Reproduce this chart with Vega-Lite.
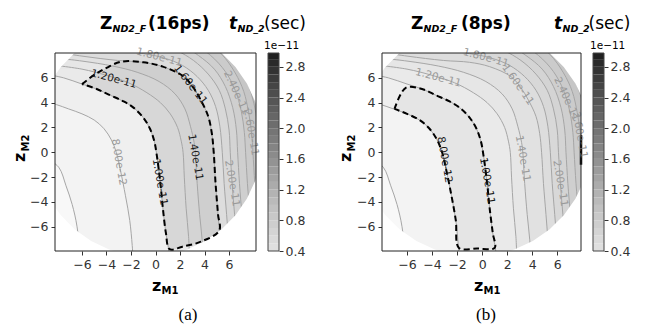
{
"$schema": "https://vega.github.io/schema/vega-lite/v6.json",
"background": "white",
"padding": {"left": 11, "top": 15, "right": 5, "bottom": 5},
"datasets": {
"curves": [
{"lev":0.4,"i":0,"x":-20,"y":20,"c":1},{"lev":0.4,"i":1,"x":-20,"y":-20,"c":1},{"lev":0.4,"i":2,"x":20,"y":-20,"c":1},{"lev":0.4,"i":3,"x":20,"y":20,"c":1},
{"lev":0.6,"i":0,"x":-20,"y":20,"c":1},{"lev":0.6,"i":1,"x":-9,"y":-0.4},{"lev":0.6,"i":2,"x":-7.9,"y":-1.2},{"lev":0.6,"i":3,"x":-7.3,"y":-2.7},{"lev":0.6,"i":4,"x":-6.8,"y":-4.2},{"lev":0.6,"i":5,"x":-6.4,"y":-6},{"lev":0.6,"i":6,"x":-6.1,"y":-9},{"lev":0.6,"i":7,"x":20,"y":-20,"c":1},{"lev":0.6,"i":8,"x":20,"y":20,"c":1},
{"lev":0.8,"i":0,"x":-20,"y":20,"c":1},{"lev":0.8,"i":1,"x":-9,"y":4.1},{"lev":0.8,"i":2,"x":-8.1,"y":3.85},{"lev":0.8,"i":3,"x":-7.1,"y":3.5},{"lev":0.8,"i":4,"x":-6,"y":3.1},{"lev":0.8,"i":5,"x":-5,"y":2.6},{"lev":0.8,"i":6,"x":-4.2,"y":1.9},{"lev":0.8,"i":7,"x":-3.6,"y":1.0},{"lev":0.8,"i":8,"x":-3.2,"y":0},{"lev":0.8,"i":9,"x":-2.85,"y":-1.5},{"lev":0.8,"i":10,"x":-2.45,"y":-3.5},{"lev":0.8,"i":11,"x":-2.1,"y":-5.5},{"lev":0.8,"i":12,"x":-1.9,"y":-7.5},{"lev":0.8,"i":13,"x":-1.8,"y":-9},{"lev":0.8,"i":14,"x":20,"y":-20,"c":1},{"lev":0.8,"i":15,"x":20,"y":20,"c":1},
{"lev":1.0,"i":0,"x":-20,"y":20,"c":1},{"lev":1.0,"i":1,"x":-9,"y":6.3},{"lev":1.0,"i":2,"x":-7.5,"y":6.0},{"lev":1.0,"i":3,"x":-6,"y":5.5},{"lev":1.0,"i":4,"x":-4.8,"y":5.1},{"lev":1.0,"i":5,"x":-3.7,"y":4.6},{"lev":1.0,"i":6,"x":-2.6,"y":4.1},{"lev":1.0,"i":7,"x":-1.8,"y":3.6},{"lev":1.0,"i":8,"x":-1.0,"y":2.8},{"lev":1.0,"i":9,"x":-0.45,"y":1.9},{"lev":1.0,"i":10,"x":-0.1,"y":0.9},{"lev":1.0,"i":11,"x":0.1,"y":-0.2},{"lev":1.0,"i":12,"x":0.4,"y":-2.5},{"lev":1.0,"i":13,"x":0.6,"y":-4.5},{"lev":1.0,"i":14,"x":0.85,"y":-6.5},{"lev":1.0,"i":15,"x":1.1,"y":-8},{"lev":1.0,"i":16,"x":1.2,"y":-9},{"lev":1.0,"i":17,"x":20,"y":-20,"c":1},{"lev":1.0,"i":18,"x":20,"y":20,"c":1},
{"lev":1.2,"i":0,"x":-20,"y":20,"c":1},{"lev":1.2,"i":1,"x":-9,"y":7.1},{"lev":1.2,"i":2,"x":-6,"y":6.7},{"lev":1.2,"i":3,"x":-4,"y":6.2},{"lev":1.2,"i":4,"x":-2.2,"y":5.6},{"lev":1.2,"i":5,"x":-0.7,"y":4.8},{"lev":1.2,"i":6,"x":0.4,"y":4.0},{"lev":1.2,"i":7,"x":1.2,"y":3.1},{"lev":1.2,"i":8,"x":1.8,"y":2.0},{"lev":1.2,"i":9,"x":2.1,"y":0.9},{"lev":1.2,"i":10,"x":2.25,"y":0},{"lev":1.2,"i":11,"x":2.35,"y":-2},{"lev":1.2,"i":12,"x":2.5,"y":-4.5},{"lev":1.2,"i":13,"x":2.7,"y":-6.8},{"lev":1.2,"i":14,"x":2.8,"y":-9},{"lev":1.2,"i":15,"x":20,"y":-20,"c":1},{"lev":1.2,"i":16,"x":20,"y":20,"c":1},
{"lev":1.4,"i":0,"x":-20,"y":20,"c":1},{"lev":1.4,"i":1,"x":-9,"y":7.7},{"lev":1.4,"i":2,"x":-6,"y":7.35},{"lev":1.4,"i":3,"x":-3.5,"y":6.95},{"lev":1.4,"i":4,"x":-1.5,"y":6.45},{"lev":1.4,"i":5,"x":0.3,"y":5.7},{"lev":1.4,"i":6,"x":1.6,"y":4.7},{"lev":1.4,"i":7,"x":2.4,"y":3.5},{"lev":1.4,"i":8,"x":2.85,"y":2.1},{"lev":1.4,"i":9,"x":3.15,"y":0.8},{"lev":1.4,"i":10,"x":3.25,"y":0},{"lev":1.4,"i":11,"x":3.4,"y":-2.5},{"lev":1.4,"i":12,"x":3.6,"y":-5},{"lev":1.4,"i":13,"x":3.8,"y":-7},{"lev":1.4,"i":14,"x":3.9,"y":-9},{"lev":1.4,"i":15,"x":20,"y":-20,"c":1},{"lev":1.4,"i":16,"x":20,"y":20,"c":1},
{"lev":1.6,"i":0,"x":-20,"y":20,"c":1},{"lev":1.6,"i":1,"x":-9,"y":8.2},{"lev":1.6,"i":2,"x":-6,"y":7.75},{"lev":1.6,"i":3,"x":-3.1,"y":7.4},{"lev":1.6,"i":4,"x":-1,"y":7.25},{"lev":1.6,"i":5,"x":0.6,"y":6.9},{"lev":1.6,"i":6,"x":2.3,"y":6.1},{"lev":1.6,"i":7,"x":3.1,"y":5.2},{"lev":1.6,"i":8,"x":3.7,"y":4.2},{"lev":1.6,"i":9,"x":4.3,"y":2.9},{"lev":1.6,"i":10,"x":4.6,"y":1.5},{"lev":1.6,"i":11,"x":4.75,"y":0},{"lev":1.6,"i":12,"x":4.9,"y":-2.5},{"lev":1.6,"i":13,"x":5.1,"y":-5},{"lev":1.6,"i":14,"x":5.25,"y":-7},{"lev":1.6,"i":15,"x":5.35,"y":-9},{"lev":1.6,"i":16,"x":20,"y":-20,"c":1},{"lev":1.6,"i":17,"x":20,"y":20,"c":1},
{"lev":1.8,"i":0,"x":-20,"y":20,"c":1},{"lev":1.8,"i":1,"x":-9,"y":8.8},{"lev":1.8,"i":2,"x":-4,"y":8.3},{"lev":1.8,"i":3,"x":-1,"y":7.95},{"lev":1.8,"i":4,"x":0.7,"y":7.6},{"lev":1.8,"i":5,"x":2.2,"y":7.0},{"lev":1.8,"i":6,"x":3.4,"y":6.1},{"lev":1.8,"i":7,"x":4.3,"y":5.0},{"lev":1.8,"i":8,"x":4.9,"y":3.7},{"lev":1.8,"i":9,"x":5.25,"y":2.1},{"lev":1.8,"i":10,"x":5.45,"y":0},{"lev":1.8,"i":11,"x":5.6,"y":-2.5},{"lev":1.8,"i":12,"x":5.8,"y":-5},{"lev":1.8,"i":13,"x":5.95,"y":-7},{"lev":1.8,"i":14,"x":6.05,"y":-9},{"lev":1.8,"i":15,"x":20,"y":-20,"c":1},{"lev":1.8,"i":16,"x":20,"y":20,"c":1},
{"lev":2.0,"i":0,"x":-20,"y":20,"c":1},{"lev":2.0,"i":1,"x":-4,"y":9.2},{"lev":2.0,"i":2,"x":0,"y":8.7},{"lev":2.0,"i":3,"x":1.7,"y":8.2},{"lev":2.0,"i":4,"x":3.1,"y":7.4},{"lev":2.0,"i":5,"x":4.3,"y":6.3},{"lev":2.0,"i":6,"x":5.2,"y":5.0},{"lev":2.0,"i":7,"x":5.7,"y":3.5},{"lev":2.0,"i":8,"x":6.0,"y":1.8},{"lev":2.0,"i":9,"x":6.1,"y":0},{"lev":2.0,"i":10,"x":6.25,"y":-2.5},{"lev":2.0,"i":11,"x":6.45,"y":-5},{"lev":2.0,"i":12,"x":6.6,"y":-7},{"lev":2.0,"i":13,"x":6.7,"y":-9},{"lev":2.0,"i":14,"x":20,"y":-20,"c":1},{"lev":2.0,"i":15,"x":20,"y":20,"c":1},
{"lev":2.2,"i":0,"x":-20,"y":20,"c":1},{"lev":2.2,"i":1,"x":0,"y":9.3},{"lev":2.2,"i":2,"x":2,"y":8.7},{"lev":2.2,"i":3,"x":3.5,"y":7.8},{"lev":2.2,"i":4,"x":4.8,"y":6.7},{"lev":2.2,"i":5,"x":5.7,"y":5.3},{"lev":2.2,"i":6,"x":6.3,"y":3.6},{"lev":2.2,"i":7,"x":6.6,"y":1.8},{"lev":2.2,"i":8,"x":6.7,"y":0},{"lev":2.2,"i":9,"x":6.85,"y":-2.5},{"lev":2.2,"i":10,"x":7.05,"y":-5},{"lev":2.2,"i":11,"x":7.2,"y":-7},{"lev":2.2,"i":12,"x":7.3,"y":-9},{"lev":2.2,"i":13,"x":20,"y":-20,"c":1},{"lev":2.2,"i":14,"x":20,"y":20,"c":1},
{"lev":2.4,"i":0,"x":-20,"y":20,"c":1},{"lev":2.4,"i":1,"x":1,"y":9.7},{"lev":2.4,"i":2,"x":3,"y":8.8},{"lev":2.4,"i":3,"x":4.5,"y":7.8},{"lev":2.4,"i":4,"x":5.7,"y":6.5},{"lev":2.4,"i":5,"x":6.5,"y":5.0},{"lev":2.4,"i":6,"x":7.0,"y":3.3},{"lev":2.4,"i":7,"x":7.25,"y":1.6},{"lev":2.4,"i":8,"x":7.35,"y":0},{"lev":2.4,"i":9,"x":7.5,"y":-2.5},{"lev":2.4,"i":10,"x":7.7,"y":-5},{"lev":2.4,"i":11,"x":7.85,"y":-7},{"lev":2.4,"i":12,"x":7.95,"y":-9},{"lev":2.4,"i":13,"x":20,"y":-20,"c":1},{"lev":2.4,"i":14,"x":20,"y":20,"c":1},
{"lev":2.6,"i":0,"x":-20,"y":20,"c":1},{"lev":2.6,"i":1,"x":2,"y":10},{"lev":2.6,"i":2,"x":4,"y":9},{"lev":2.6,"i":3,"x":5.4,"y":7.9},{"lev":2.6,"i":4,"x":6.5,"y":6.4},{"lev":2.6,"i":5,"x":7.2,"y":4.9},{"lev":2.6,"i":6,"x":7.6,"y":3.2},{"lev":2.6,"i":7,"x":7.85,"y":1.5},{"lev":2.6,"i":8,"x":7.95,"y":0},{"lev":2.6,"i":9,"x":8.1,"y":-2.5},{"lev":2.6,"i":10,"x":8.3,"y":-5},{"lev":2.6,"i":11,"x":8.45,"y":-7},{"lev":2.6,"i":12,"x":8.55,"y":-9},{"lev":2.6,"i":13,"x":20,"y":-20,"c":1},{"lev":2.6,"i":14,"x":20,"y":20,"c":1},
{"lev":2.8,"i":0,"x":-20,"y":20,"c":1},{"lev":2.8,"i":1,"x":3,"y":10.3},{"lev":2.8,"i":2,"x":5,"y":9.1},{"lev":2.8,"i":3,"x":6.3,"y":7.8},{"lev":2.8,"i":4,"x":7.2,"y":6.3},{"lev":2.8,"i":5,"x":7.8,"y":4.8},{"lev":2.8,"i":6,"x":8.2,"y":3.1},{"lev":2.8,"i":7,"x":8.45,"y":1.4},{"lev":2.8,"i":8,"x":8.55,"y":0},{"lev":2.8,"i":9,"x":8.7,"y":-2.5},{"lev":2.8,"i":10,"x":8.9,"y":-5},{"lev":2.8,"i":11,"x":9.05,"y":-7},{"lev":2.8,"i":12,"x":9.15,"y":-9},{"lev":2.8,"i":13,"x":20,"y":-20,"c":1},{"lev":2.8,"i":14,"x":20,"y":20,"c":1}
],
"mask": [
{"i":0,"x":8.7,"y":0.9},{"i":1,"x":8.559,"y":-0.715},{"i":2,"x":8.139,"y":-2.281},{"i":3,"x":7.454,"y":-3.75},{"i":4,"x":6.524,"y":-5.078},{"i":5,"x":5.378,"y":-6.224},{"i":6,"x":4.05,"y":-7.154},{"i":7,"x":2.581,"y":-7.839},{"i":8,"x":1.015,"y":-8.259},{"i":9,"x":-0.6,"y":-8.4},{"i":10,"x":-2.215,"y":-8.259},{"i":11,"x":-3.781,"y":-7.839},{"i":12,"x":-5.25,"y":-7.154},{"i":13,"x":-6.578,"y":-6.224},{"i":14,"x":-7.724,"y":-5.078},{"i":15,"x":-8.654,"y":-3.75},{"i":16,"x":-9.339,"y":-2.281},{"i":17,"x":-9.759,"y":-0.715},{"i":18,"x":-9.9,"y":0.9},{"i":19,"x":-9.759,"y":2.515},{"i":20,"x":-9.339,"y":4.081},{"i":21,"x":-8.654,"y":5.55},{"i":22,"x":-7.724,"y":6.878},{"i":23,"x":-6.578,"y":8.024},{"i":24,"x":-5.25,"y":8.954},{"i":25,"x":-3.781,"y":9.639},{"i":26,"x":-2.215,"y":10.059},{"i":27,"x":-0.6,"y":10.2},{"i":28,"x":1.015,"y":10.059},{"i":29,"x":2.581,"y":9.639},{"i":30,"x":4.05,"y":8.954},{"i":31,"x":5.378,"y":8.024},{"i":32,"x":6.524,"y":6.878},{"i":33,"x":7.454,"y":5.55},{"i":34,"x":8.139,"y":4.081},{"i":35,"x":8.559,"y":2.515},{"i":36,"x":8.7,"y":0.9},{"i":37,"x":30,"y":0.9},{"i":38,"x":30,"y":30},{"i":39,"x":-30,"y":30},{"i":40,"x":-30,"y":-30},{"i":41,"x":30,"y":-30},{"i":42,"x":30,"y":0.9}
],
"regA": [
{"i":0,"x":-6,"y":5.5},{"i":1,"x":-4.9,"y":6.3},{"i":2,"x":-4.0,"y":6.8},{"i":3,"x":-2.8,"y":7.3},{"i":4,"x":-1,"y":7.25},{"i":5,"x":0.6,"y":6.9},{"i":6,"x":2.3,"y":6.1},{"i":7,"x":3.1,"y":5.2},{"i":8,"x":3.7,"y":4.2},{"i":9,"x":4.3,"y":2.9},{"i":10,"x":4.6,"y":1.5},{"i":11,"x":4.75,"y":0},{"i":12,"x":4.9,"y":-2.5},{"i":13,"x":5.1,"y":-5},{"i":14,"x":5.2,"y":-6.3},{"i":15,"x":3.7,"y":-7.2},{"i":16,"x":2.2,"y":-7.6},{"i":17,"x":1.15,"y":-7.8},{"i":18,"x":0.85,"y":-6.5},{"i":19,"x":0.6,"y":-4.5},{"i":20,"x":0.4,"y":-2.5},{"i":21,"x":0.1,"y":-0.2},{"i":22,"x":-0.1,"y":0.9},{"i":23,"x":-0.45,"y":1.9},{"i":24,"x":-1.0,"y":2.8},{"i":25,"x":-1.8,"y":3.6},{"i":26,"x":-2.6,"y":4.1},{"i":27,"x":-3.7,"y":4.6},{"i":28,"x":-4.8,"y":5.1},{"i":29,"x":-6,"y":5.5}
],
"regB": [
{"i":0,"x":-7.0,"y":3.5},{"i":1,"x":-6.1,"y":5.2},{"i":2,"x":-4.8,"y":5.1},{"i":3,"x":-3.7,"y":4.6},{"i":4,"x":-2.6,"y":4.1},{"i":5,"x":-1.8,"y":3.6},{"i":6,"x":-1.0,"y":2.8},{"i":7,"x":-0.45,"y":1.9},{"i":8,"x":-0.1,"y":0.9},{"i":9,"x":0.1,"y":-0.2},{"i":10,"x":0.4,"y":-2.5},{"i":11,"x":0.6,"y":-4.5},{"i":12,"x":0.85,"y":-6.5},{"i":13,"x":1.0,"y":-7.7},{"i":14,"x":-0.4,"y":-7.75},{"i":15,"x":-1.85,"y":-7.7},{"i":16,"x":-2.1,"y":-5.5},{"i":17,"x":-2.45,"y":-3.5},{"i":18,"x":-2.85,"y":-1.5},{"i":19,"x":-3.2,"y":0},{"i":20,"x":-3.6,"y":1.0},{"i":21,"x":-4.2,"y":1.9},{"i":22,"x":-5,"y":2.6},{"i":23,"x":-6,"y":3.1},{"i":24,"x":-7.0,"y":3.5}
],
"cbar": [
{"lo":0.4,"hi":0.5,"mid":0.45},{"lo":0.5,"hi":0.6,"mid":0.55},{"lo":0.6,"hi":0.7,"mid":0.65},{"lo":0.7,"hi":0.8,"mid":0.75},{"lo":0.8,"hi":0.9,"mid":0.85},{"lo":0.9,"hi":1.0,"mid":0.95},{"lo":1.0,"hi":1.1,"mid":1.05},{"lo":1.1,"hi":1.2,"mid":1.15},{"lo":1.2,"hi":1.3,"mid":1.25},{"lo":1.3,"hi":1.4,"mid":1.35},{"lo":1.4,"hi":1.5,"mid":1.45},{"lo":1.5,"hi":1.6,"mid":1.55},{"lo":1.6,"hi":1.7,"mid":1.65},{"lo":1.7,"hi":1.8,"mid":1.75},{"lo":1.8,"hi":1.9,"mid":1.85},{"lo":1.9,"hi":2.0,"mid":1.95},{"lo":2.0,"hi":2.1,"mid":2.05},{"lo":2.1,"hi":2.2,"mid":2.15},{"lo":2.2,"hi":2.3,"mid":2.25},{"lo":2.3,"hi":2.4,"mid":2.35},{"lo":2.4,"hi":2.5,"mid":2.45},{"lo":2.5,"hi":2.6,"mid":2.55},{"lo":2.6,"hi":2.7,"mid":2.65},{"lo":2.7,"hi":2.8,"mid":2.75},{"lo":2.8,"hi":2.9,"mid":2.85},{"lo":2.9,"hi":3.0,"mid":2.95}
]
},
"bounds": "flush",
"spacing": 12,
"resolve": {"scale": {"x": "independent", "y": "independent", "color": "independent", "fill": "independent"}, "axis": {"x": "independent", "y": "independent"}},
"hconcat": [
{
"width": 201, "height": 198,
"encoding": {
"x": {"field": "x", "type": "quantitative", "title": null, "scale": {"domain": [-8.2, 8.2], "nice": false, "zero": false}, "axis": {"values": [-6, -4, -2, 0, 2, 4, 6]}},
"y": {"field": "y", "type": "quantitative", "title": null, "scale": {"domain": [-7.95, 8.0], "nice": false, "zero": false}, "axis": {"values": [-6, -4, -2, 0, 2, 4, 6]}}
},
"layer": [
{"data": {"name": "curves"}, "mark": {"type": "line", "interpolate": "catmull-rom", "clip": true, "strokeWidth": 0, "strokeOpacity": 0},
 "encoding": {"fill": {"field": "lev", "type": "quantitative", "scale": {"domain": [0.4, 2.8], "range": ["#f8f8f8", "#c2c2c2"]}, "legend": null}, "detail": {"field": "lev", "type": "nominal"}, "order": {"field": "i", "type": "quantitative"}}},
{"data": {"name": "regA"}, "mark": {"type": "line", "interpolate": "catmull-rom", "clip": true, "strokeWidth": 0, "strokeOpacity": 0, "fill": "#000000", "fillOpacity": 0.08},
 "encoding": {"order": {"field": "i", "type": "quantitative"}}},
{"data": {"name": "curves"}, "transform": [{"filter": "datum.c !== 1"}], "mark": {"type": "line", "interpolate": "catmull-rom", "clip": true, "stroke": "#a6a6a6", "strokeWidth": 1},
 "encoding": {"detail": {"field": "lev", "type": "nominal"}, "order": {"field": "i", "type": "quantitative"}}},
{"data": {"name": "mask"}, "mark": {"type": "line", "clip": true, "strokeWidth": 0, "strokeOpacity": 0, "fill": "#ffffff"},
 "encoding": {"order": {"field": "i", "type": "quantitative"}}},
{"data": {"name": "regA"}, "mark": {"type": "line", "interpolate": "catmull-rom", "clip": true, "stroke": "#000000", "strokeWidth": 2, "strokeDash": [6, 3.5]},
 "encoding": {"order": {"field": "i", "type": "quantitative"}}},
{"data": {"values": [{"t": "8.00e-12", "x": -3.0, "y": -0.8, "k": "c"}, {"t": "1.00e-11", "x": 0.35, "y": -2.4, "k": "b"}, {"t": "1.40e-11", "x": 3.25, "y": -0.4, "k": "b"}, {"t": "2.60e-11", "x": 7.8, "y": 1.6, "k": "c"}, {"t": "2.00e-11", "x": 6.25, "y": -2.5, "k": "c"}]},
 "mark": {"type": "text", "style": "clab", "angle": 80},
 "encoding": {"text": {"field": "t"}, "color": {"field": "k", "type": "nominal", "scale": {"domain": ["b", "c"], "range": ["#1a1a1a", "#9a9a9a"]}, "legend": null}}},
{"data": {"values": [{"t": "1.60e-11", "x": 2.85, "y": 5.45, "k": "b"}]},
 "mark": {"type": "text", "style": "clab", "angle": 52},
 "encoding": {"text": {"field": "t"}, "color": {"field": "k", "type": "nominal", "scale": {"domain": ["b", "c"], "range": ["#1a1a1a", "#9a9a9a"]}, "legend": null}}},
{"data": {"values": [{"t": "2.40e-11", "x": 6.6, "y": 4.8, "k": "c"}]},
 "mark": {"type": "text", "style": "clab", "angle": 65},
 "encoding": {"text": {"field": "t"}, "color": {"field": "k", "type": "nominal", "scale": {"domain": ["b", "c"], "range": ["#1a1a1a", "#9a9a9a"]}, "legend": null}}},
{"data": {"values": [{"t": "1.20e-11", "x": -3.4, "y": 5.9, "k": "b"}, {"t": "1.80e-11", "x": 0.3, "y": 7.65, "k": "c"}]},
 "mark": {"type": "text", "style": "clab", "angle": 15},
 "encoding": {"text": {"field": "t"}, "color": {"field": "k", "type": "nominal", "scale": {"domain": ["b", "c"], "range": ["#1a1a1a", "#9a9a9a"]}, "legend": null}}},
{"data": {"values": [{"x": -8.2, "y": -7.95, "x2": 8.2, "y2": 8.0}]}, "mark": {"type": "rect", "fill": null, "stroke": "#222222", "strokeWidth": 1},
 "encoding": {"x2": {"field": "x2"}, "y2": {"field": "y2"}}},
{"data": {"values": [{"t": "Z", "x": -8.2, "y": 8.0}]}, "mark": {"type": "text", "style": "tbig", "dx": 45, "dy": -24}, "encoding": {"text": {"field": "t"}}},
{"data": {"values": [{"t": "ND2_F", "x": -8.2, "y": 8.0}]}, "mark": {"type": "text", "style": "tsub", "dx": 57.5, "dy": -21}, "encoding": {"text": {"field": "t"}}},
{"data": {"values": [{"t": "(16ps)", "x": -8.2, "y": 8.0}]}, "mark": {"type": "text", "style": "tbig", "dx": 93, "dy": -24}, "encoding": {"text": {"field": "t"}}},
{"data": {"values": [{"t": "t", "x": -8.2, "y": 8.0}]}, "mark": {"type": "text", "style": "tit", "dx": 174, "dy": -24}, "encoding": {"text": {"field": "t"}}},
{"data": {"values": [{"t": "ND_2", "x": -8.2, "y": 8.0}]}, "mark": {"type": "text", "style": "tsub", "dx": 182.5, "dy": -21}, "encoding": {"text": {"field": "t"}}},
{"data": {"values": [{"t": "(sec)", "x": -8.2, "y": 8.0}]}, "mark": {"type": "text", "style": "treg", "dx": 209, "dy": -24}, "encoding": {"text": {"field": "t"}}},
{"data": {"values": [{"t": "1e−11", "x": -8.2, "y": 8.0}]}, "mark": {"type": "text", "style": "tsm", "dx": 209, "dy": -4}, "encoding": {"text": {"field": "t"}}},
{"data": {"values": [{"t": "z", "x": -8.2, "y": -7.95}]}, "mark": {"type": "text", "style": "tax", "dx": 97, "dy": 40}, "encoding": {"text": {"field": "t"}}},
{"data": {"values": [{"t": "M1", "x": -8.2, "y": -7.95}]}, "mark": {"type": "text", "style": "taxs", "dx": 106.5, "dy": 43}, "encoding": {"text": {"field": "t"}}},
{"data": {"values": [{"t": "z", "x": -8.2, "y": -7.95}]}, "mark": {"type": "text", "style": "tax", "angle": 270, "dx": 89, "dy": -30}, "encoding": {"text": {"field": "t"}}},
{"data": {"values": [{"t": "M2", "x": -8.2, "y": -7.95}]}, "mark": {"type": "text", "style": "taxs", "angle": 270, "dx": 99.5, "dy": -26.5}, "encoding": {"text": {"field": "t"}}},
{"data": {"values": [{"t": "(a)", "x": -8.2, "y": -7.95}]}, "mark": {"type": "text", "style": "tcap", "dx": 133, "dy": 69}, "encoding": {"text": {"field": "t"}}}
]
},
{
"width": 11, "height": 198,
"encoding": {
"x": {"datum": 0, "type": "quantitative", "scale": {"domain": [0, 1], "nice": false, "zero": false}, "axis": null},
"x2": {"datum": 1},
"y": {"field": "lo", "type": "quantitative", "title": null, "scale": {"domain": [0.4, 2.98], "nice": false, "zero": false}, "axis": {"values": [0.4, 0.8, 1.2, 1.6, 2.0, 2.4, 2.8], "format": ".1f", "orient": "right", "labelPadding": 2, "labelOverlap": false}},
"y2": {"field": "hi"}
},
"layer": [
{"data": {"name": "cbar"}, "mark": {"type": "rect", "clip": true},
 "encoding": {"color": {"field": "mid", "type": "quantitative", "scale": {"scheme": "greys", "domain": [0.4, 2.98]}, "legend": null}}},
{"data": {"values": [{"lo": 0.4, "hi": 2.98}]}, "mark": {"type": "rect", "fill": null, "stroke": "#444444", "strokeWidth": 1}}
]
},
{
"width": 79, "height": 198,
"data": {"values": [{}]},
"mark": {"type": "point", "opacity": 0}
},
{
"width": 199, "height": 198,
"encoding": {
"x": {"field": "x", "type": "quantitative", "title": null, "scale": {"domain": [-8.0, 7.9], "nice": false, "zero": false}, "axis": {"values": [-6, -4, -2, 0, 2, 4, 6]}},
"y": {"field": "y", "type": "quantitative", "title": null, "scale": {"domain": [-7.95, 8.0], "nice": false, "zero": false}, "axis": {"values": [-6, -4, -2, 0, 2, 4, 6]}}
},
"layer": [
{"data": {"name": "curves"}, "mark": {"type": "line", "interpolate": "catmull-rom", "clip": true, "strokeWidth": 0, "strokeOpacity": 0},
 "encoding": {"fill": {"field": "lev", "type": "quantitative", "scale": {"domain": [0.4, 2.8], "range": ["#f8f8f8", "#c2c2c2"]}, "legend": null}, "detail": {"field": "lev", "type": "nominal"}, "order": {"field": "i", "type": "quantitative"}}},
{"data": {"name": "regB"}, "mark": {"type": "line", "interpolate": "catmull-rom", "clip": true, "strokeWidth": 0, "strokeOpacity": 0, "fill": "#000000", "fillOpacity": 0.04},
 "encoding": {"order": {"field": "i", "type": "quantitative"}}},
{"data": {"name": "curves"}, "transform": [{"filter": "datum.c !== 1"}], "mark": {"type": "line", "interpolate": "catmull-rom", "clip": true, "stroke": "#a6a6a6", "strokeWidth": 1},
 "encoding": {"detail": {"field": "lev", "type": "nominal"}, "order": {"field": "i", "type": "quantitative"}}},
{"data": {"name": "mask"}, "mark": {"type": "line", "clip": true, "strokeWidth": 0, "strokeOpacity": 0, "fill": "#ffffff"},
 "encoding": {"order": {"field": "i", "type": "quantitative"}}},
{"data": {"name": "regB"}, "mark": {"type": "line", "interpolate": "catmull-rom", "clip": true, "stroke": "#000000", "strokeWidth": 2, "strokeDash": [6, 3.5]},
 "encoding": {"order": {"field": "i", "type": "quantitative"}}},
{"data": {"values": [{"i": 0, "x": 7.9, "y": -1.0}, {"i": 1, "x": 7.9, "y": 1.4}]}, "mark": {"type": "line", "stroke": "#000000", "strokeWidth": 2.5},
 "encoding": {"order": {"field": "i", "type": "quantitative"}}},
{"data": {"values": [{"t": "1.40e-11", "x": 3.25, "y": -0.5, "k": "c"}, {"t": "8.00e-12", "x": -3.0, "y": -0.6, "k": "b"}, {"t": "1.00e-11", "x": 0.4, "y": -2.3, "k": "b"}, {"t": "2.60e-11", "x": 7.8, "y": 1.4, "k": "c"}, {"t": "2.00e-11", "x": 6.25, "y": -2.5, "k": "c"}]},
 "mark": {"type": "text", "style": "clab", "angle": 80},
 "encoding": {"text": {"field": "t"}, "color": {"field": "k", "type": "nominal", "scale": {"domain": ["b", "c"], "range": ["#1a1a1a", "#9a9a9a"]}, "legend": null}}},
{"data": {"values": [{"t": "1.60e-11", "x": 2.85, "y": 5.45, "k": "c"}]},
 "mark": {"type": "text", "style": "clab", "angle": 55},
 "encoding": {"text": {"field": "t"}, "color": {"field": "k", "type": "nominal", "scale": {"domain": ["b", "c"], "range": ["#1a1a1a", "#9a9a9a"]}, "legend": null}}},
{"data": {"values": [{"t": "2.40e-11", "x": 6.75, "y": 4.3, "k": "c"}]},
 "mark": {"type": "text", "style": "clab", "angle": 65},
 "encoding": {"text": {"field": "t"}, "color": {"field": "k", "type": "nominal", "scale": {"domain": ["b", "c"], "range": ["#1a1a1a", "#9a9a9a"]}, "legend": null}}},
{"data": {"values": [{"t": "1.20e-11", "x": -3.5, "y": 6.0, "k": "c"}, {"t": "1.80e-11", "x": 0.3, "y": 7.6, "k": "c"}]},
 "mark": {"type": "text", "style": "clab", "angle": 15},
 "encoding": {"text": {"field": "t"}, "color": {"field": "k", "type": "nominal", "scale": {"domain": ["b", "c"], "range": ["#1a1a1a", "#9a9a9a"]}, "legend": null}}},
{"data": {"values": [{"x": -8.0, "y": -7.95, "x2": 7.9, "y2": 8.0}]}, "mark": {"type": "rect", "fill": null, "stroke": "#222222", "strokeWidth": 1},
 "encoding": {"x2": {"field": "x2"}, "y2": {"field": "y2"}}},
{"data": {"values": [{"t": "Z", "x": -8.0, "y": 8.0}]}, "mark": {"type": "text", "style": "tbig", "dx": 29, "dy": -24}, "encoding": {"text": {"field": "t"}}},
{"data": {"values": [{"t": "ND2_F", "x": -8.0, "y": 8.0}]}, "mark": {"type": "text", "style": "tsub", "dx": 41.5, "dy": -21}, "encoding": {"text": {"field": "t"}}},
{"data": {"values": [{"t": "(8ps)", "x": -8.0, "y": 8.0}]}, "mark": {"type": "text", "style": "tbig", "dx": 79, "dy": -24}, "encoding": {"text": {"field": "t"}}},
{"data": {"values": [{"t": "t", "x": -8.0, "y": 8.0}]}, "mark": {"type": "text", "style": "tit", "dx": 172, "dy": -24}, "encoding": {"text": {"field": "t"}}},
{"data": {"values": [{"t": "ND_2", "x": -8.0, "y": 8.0}]}, "mark": {"type": "text", "style": "tsub", "dx": 180.5, "dy": -21}, "encoding": {"text": {"field": "t"}}},
{"data": {"values": [{"t": "(sec)", "x": -8.0, "y": 8.0}]}, "mark": {"type": "text", "style": "treg", "dx": 206.5, "dy": -24}, "encoding": {"text": {"field": "t"}}},
{"data": {"values": [{"t": "1e−11", "x": -8.0, "y": 8.0}]}, "mark": {"type": "text", "style": "tsm", "dx": 208, "dy": -4}, "encoding": {"text": {"field": "t"}}},
{"data": {"values": [{"t": "z", "x": -8.0, "y": -7.95}]}, "mark": {"type": "text", "style": "tax", "dx": 92, "dy": 40}, "encoding": {"text": {"field": "t"}}},
{"data": {"values": [{"t": "M1", "x": -8.0, "y": -7.95}]}, "mark": {"type": "text", "style": "taxs", "dx": 101.5, "dy": 43}, "encoding": {"text": {"field": "t"}}},
{"data": {"values": [{"t": "z", "x": -8.0, "y": -7.95}]}, "mark": {"type": "text", "style": "tax", "angle": 270, "dx": 89, "dy": -31}, "encoding": {"text": {"field": "t"}}},
{"data": {"values": [{"t": "M2", "x": -8.0, "y": -7.95}]}, "mark": {"type": "text", "style": "taxs", "angle": 270, "dx": 99.5, "dy": -27.5}, "encoding": {"text": {"field": "t"}}},
{"data": {"values": [{"t": "(b)", "x": -8.0, "y": -7.95}]}, "mark": {"type": "text", "style": "tcap", "dx": 104, "dy": 69}, "encoding": {"text": {"field": "t"}}}
]
},
{
"width": 11, "height": 198,
"encoding": {
"x": {"datum": 0, "type": "quantitative", "scale": {"domain": [0, 1], "nice": false, "zero": false}, "axis": null},
"x2": {"datum": 1},
"y": {"field": "lo", "type": "quantitative", "title": null, "scale": {"domain": [0.4, 2.98], "nice": false, "zero": false}, "axis": {"values": [0.4, 0.8, 1.2, 1.6, 2.0, 2.4, 2.8], "format": ".1f", "orient": "right", "labelPadding": 2, "labelOverlap": false}},
"y2": {"field": "hi"}
},
"layer": [
{"data": {"name": "cbar"}, "mark": {"type": "rect", "clip": true},
 "encoding": {"color": {"field": "mid", "type": "quantitative", "scale": {"scheme": "greys", "domain": [0.4, 2.98]}, "legend": null}}},
{"data": {"values": [{"lo": 0.4, "hi": 2.98}]}, "mark": {"type": "rect", "fill": null, "stroke": "#444444", "strokeWidth": 1}}
]
}
],
"config": {
"view": {"stroke": null},
"axis": {"labelFont": "DejaVu Sans", "labelFontSize": 12.5, "labelColor": "#333333", "tickColor": "#333333", "tickSize": 4, "tickWidth": 1, "domain": false, "grid": false, "labelPadding": 3, "labelOverlap": false},
"style": {
"tbig": {"font": "DejaVu Sans", "fontWeight": "bold", "fontSize": 17, "align": "left", "baseline": "alphabetic", "fill": "#111111"},
"tsub": {"font": "DejaVu Sans", "fontWeight": "bold", "fontStyle": "italic", "fontSize": 9.5, "align": "left", "baseline": "alphabetic", "fill": "#111111"},
"treg": {"font": "DejaVu Sans", "fontSize": 17, "align": "left", "baseline": "alphabetic", "fill": "#111111"},
"tit": {"font": "DejaVu Sans", "fontWeight": "bold", "fontStyle": "italic", "fontSize": 17, "align": "left", "baseline": "alphabetic", "fill": "#111111"},
"tsm": {"font": "DejaVu Sans", "fontSize": 10.5, "align": "left", "baseline": "alphabetic", "fill": "#333333"},
"tax": {"font": "DejaVu Sans", "fontWeight": "bold", "fontSize": 16, "align": "left", "baseline": "alphabetic", "fill": "#111111"},
"taxs": {"font": "DejaVu Sans", "fontWeight": "bold", "fontSize": 10, "align": "left", "baseline": "alphabetic", "fill": "#111111"},
"tcap": {"font": "Liberation Serif", "fontSize": 17, "align": "center", "baseline": "alphabetic", "fill": "#111111"},
"clab": {"font": "DejaVu Sans", "fontSize": 10.5, "align": "center", "baseline": "middle"}
}
}
}
